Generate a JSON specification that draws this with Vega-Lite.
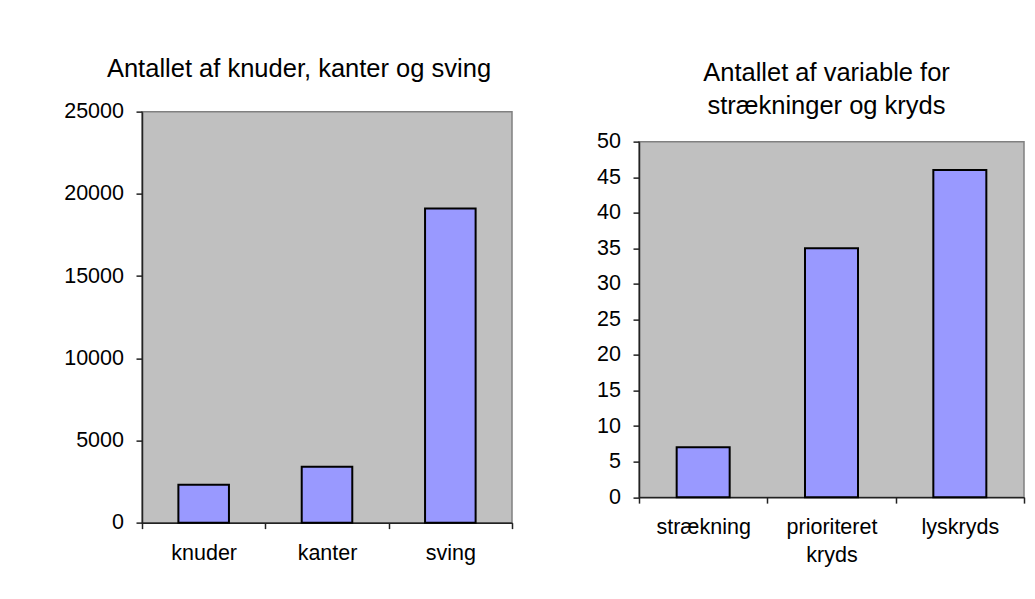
{
  "$schema": "https://vega.github.io/schema/vega-lite/v6.json",
  "background": "white",
  "padding": {"left": 62, "top": 55.5, "right": 0, "bottom": 0},
  "spacing": 81,
  "center": true,
  "bounds": "full",
  "config": {
    "font": "Liberation Sans",
    "view": {"fill": "#C0C0C0", "stroke": "#808080", "strokeWidth": 1.5},
    "axis": {
      "labelFont": "Liberation Sans",
      "labelFontSize": 21.5,
      "labelColor": "#000",
      "domainColor": "#222",
      "domainWidth": 1.5,
      "tickColor": "#222",
      "tickWidth": 1.5,
      "tickSize": 6,
      "grid": false,
      "title": null
    },
    "title": {"font": "Liberation Sans", "fontSize": 25.5, "fontWeight": "normal", "color": "#000"}
  },
  "hconcat": [
    {
      "width": 370,
      "height": 411,
      "title": {"text": "Antallet af knuder, kanter og sving", "offset": 18.5, "frame": "group", "dx": -28},
      "data": {"values": [
        {"kategori": "knuder", "antal": 2300},
        {"kategori": "kanter", "antal": 3400},
        {"kategori": "sving", "antal": 19100}
      ]},
      "mark": {"type": "bar", "fill": "#9999FF", "stroke": "#000", "strokeWidth": 2, "width": {"band": 0.41}},
      "encoding": {
        "x": {"field": "kategori", "type": "nominal", "sort": null,
              "scale": {"paddingInner": 0, "paddingOuter": 0},
              "axis": {"labelAngle": 0, "tickBand": "extent", "labelPadding": 14, "labelLineHeight": 31.5,
                       "labelExpr": "[datum.label, ' ']", "title": null}},
        "y": {"field": "antal", "type": "quantitative",
              "scale": {"domain": [0, 25000], "nice": false},
              "axis": {"values": [0, 5000, 10000, 15000, 20000, 25000], "format": "d", "labelPadding": 12.5, "title": null}}
      }
    },
    {
      "width": 385,
      "height": 355.5,
      "title": {"text": ["Antallet af variable for", "strækninger og kryds"], "offset": 11.3, "frame": "group", "dx": -5, "lineHeight": 32.7},
      "data": {"values": [
        {"kategori": "strækning", "antal": 7},
        {"kategori": "prioriteret kryds", "antal": 35},
        {"kategori": "lyskryds", "antal": 46}
      ]},
      "mark": {"type": "bar", "fill": "#9999FF", "stroke": "#000", "strokeWidth": 2, "width": {"band": 0.413}},
      "encoding": {
        "x": {"field": "kategori", "type": "nominal", "sort": null,
              "scale": {"paddingInner": 0, "paddingOuter": 0},
              "axis": {"labelAngle": 0, "tickBand": "extent", "labelPadding": 13, "labelLineHeight": 28,
                       "labelExpr": "split(datum.label, ' ')", "title": null}},
        "y": {"field": "antal", "type": "quantitative",
              "scale": {"domain": [0, 50], "nice": false},
              "axis": {"values": [0, 5, 10, 15, 20, 25, 30, 35, 40, 45, 50], "format": "d", "labelPadding": 12.5, "title": null}}
      }
    }
  ]
}
